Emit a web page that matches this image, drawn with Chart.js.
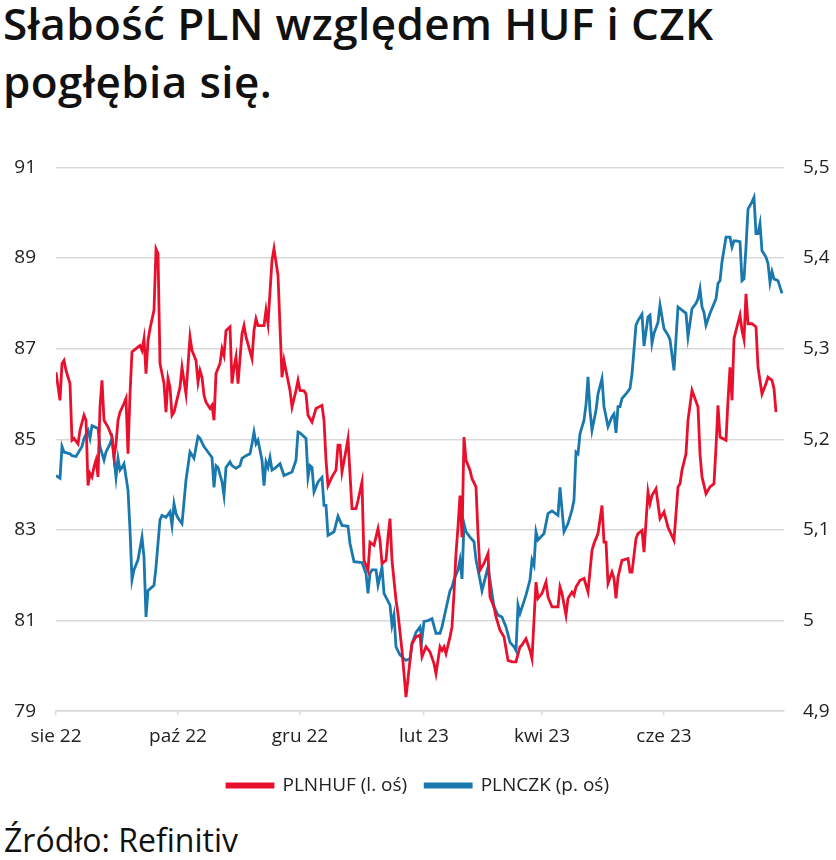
<!DOCTYPE html>
<html lang="pl">
<head>
<meta charset="utf-8">
<title>Słabość PLN względem HUF i CZK</title>
<script src="https://cdn.jsdelivr.net/npm/chart.js@4.4.0/dist/chart.umd.min.js"></script>
<style>
  html, body { margin: 0; padding: 0; background: #fff; }
  body { width: 836px; height: 860px; position: relative; overflow: hidden; font-family: 'Open Sans', sans-serif; }
  h1 { position: absolute; left: 3px; top: -6px; margin: 0; font-size: 44px; font-weight: 600; letter-spacing: 0.4px; line-height: 58px; color: #111; }
  #wrap { position: absolute; left: 0; top: 136px; width: 836px; height: 669px; }
  .source { position: absolute; left: 4px; top: 818px; font-size: 32px; color: #111; }
</style>
</head>
<body>
<h1>Słabość PLN względem HUF i CZK<br>pogłębia się.</h1>
<div id="wrap"><canvas id="chart" width="836" height="669"></canvas></div>
<div class="source">Źródło: Refinitiv</div>
<script>
// days counted from 1 Aug 2022
const monthTickDays = [0, 61, 122, 184, 243, 304];
const monthLabels = ['sie 22', 'paź 22', 'gru 22', 'lut 23', 'kwi 23', 'cze 23'];

// PLNHUF (left axis)
const hufDay = [0,2,3,4,5,7,8,9,11,12,14,15,16,17,18,19,20,21,22,23,24,26,28,29,30,31,32,34,35,36,37,38,40,42,43,44,45,46,47,49,50,51,52,54,55,56,57,58,59,
  62,63,65,67,68,70,71,72,73,74,75,77,78,79,80,82,83,84,85,87,88,89,90,91,93,94,95,98,99,100,101,104,105,106,108,109,110,111,112,113,114,115,117,118,120,121,122,124,125,126,
  128,130,133,134,135,136,138,140,141,142,143,145,146,148,150,151,153,154,156,157,159,161,162,163,165,166,167,168,170,171,173,175,177,178,180,182,183,185,187,189,190,
  192,193,194,195,197,198,199,200,201,202,203,204,205,207,208,210,211,212,214,216,217,219,220,222,224,226,228,230,232,233,235,237,238,240,241,243,245,246,248,251,252,253,255,
  256,258,259,260,262,264,266,268,269,271,273,274,275,276,278,279,280,281,283,286,287,288,290,291,293,294,296,297,298,300,302,304,306,309,311,
  312,313,315,316,318,321,322,323,325,327,329,330,331,332,335,336,337,338,339,340,342,343,344,345,346,348,350,351,353,355,356,358,359,360];
const hufRate = [86.48,85.86,86.67,86.74,86.52,86.23,84.98,85.02,84.9,85.2,85.53,85.42,83.98,84.25,84.17,84.39,84.54,84.17,85.71,86.3,85.42,85.27,85.05,84.61,84.9,85.42,85.6,85.79,85.9,84.68,86.0,86.93,87.0,87.07,86.96,87.22,86.45,87.18,87.44,87.85,89.2,89.1,86.67,86.23,85.6,86.34,86.15,85.53,85.6,
  86.15,86.59,86.0,87.26,86.96,86.74,86.26,86.52,86.37,85.97,85.82,85.68,85.75,85.42,86.45,86.67,87.0,86.85,87.4,87.48,86.23,86.59,86.82,86.23,87.33,87.51,87.26,86.78,87.4,87.66,87.51,87.51,87.85,87.55,88.95,89.21,88.91,88.62,87.48,86.37,86.74,86.52,86.08,85.71,86.08,86.3,86.08,86.07,86.0,85.53,
  85.38,85.68,85.75,85.42,84.54,83.98,84.17,84.32,84.87,84.87,84.28,84.76,85.01,83.47,83.47,83.65,84.06,82.33,82.11,82.73,82.66,83.03,82.77,82.26,82.33,82.84,83.25,82.33,81.45,81.15,80.34,79.31,80.12,80.49,80.64,80.68,80.2,80.42,80.31,80.05,79.83,
  80.42,80.34,80.42,80.27,80.64,80.86,81.6,82.48,83.07,83.76,82.84,85.05,84.54,84.32,84.13,83.95,82.92,82.11,82.26,82.48,81.52,81.3,81.08,80.79,80.64,80.12,80.09,80.09,80.42,80.46,80.6,80.34,80.16,81.85,81.49,81.6,81.85,81.52,81.3,81.3,81.74,81.6,81.12,
  81.49,81.63,81.56,81.74,81.89,81.93,81.63,82.55,82.7,82.92,83.54,82.73,82.73,81.82,82.07,81.93,81.49,81.96,82.33,82.37,82.07,82.07,82.81,82.92,82.99,82.51,83.84,83.58,83.76,83.91,83.25,83.4,83.06,82.77,83.95,
  84.02,84.32,84.68,85.42,86.08,85.71,84.68,84.17,83.8,83.95,84.02,84.83,85.75,85.05,84.98,85.86,86.59,85.86,87.22,87.4,87.74,87.4,87.2,88.21,87.55,87.55,87.48,86.59,86.0,86.23,86.37,86.3,86.12,85.6];

// PLNCZK (right axis)
const czkDay = [0,2,3,4,7,8,10,13,14,16,17,18,19,21,22,24,25,27,28,29,30,31,32,33,34,36,37,38,39,41,43,44,45,46,47,49,50,52,53,55,57,58,59,60,61,
  63,65,67,69,71,72,74,76,78,79,80,81,83,84,85,87,88,90,92,93,95,97,98,99,100,101,103,104,105,106,107,108,110,112,114,116,118,120,121,122,125,126,127,128,129,
  131,133,134,135,136,139,141,143,146,147,149,153,155,156,157,158,160,161,163,164,167,168,169,170,172,175,177,178,180,182,183,184,186,188,190,
  192,193,195,197,198,199,201,202,203,204,205,207,209,210,212,213,216,218,219,221,223,225,227,229,230,231,232,235,237,238,239,240,241,244,246,248,251,252,254,
  256,258,259,260,261,262,264,265,266,267,268,270,271,273,274,276,278,279,280,281,282,283,285,287,288,290,291,293,294,296,297,298,299,301,302,304,306,307,309,311,
  315,316,318,320,321,322,323,324,325,327,330,331,332,333,335,337,338,339,340,342,343,344,345,346,348,349,350,351,352,353,355,356,357,358,359,361,363];
const czkRate = [5.160,5.157,5.192,5.186,5.184,5.182,5.181,5.192,5.201,5.210,5.201,5.215,5.214,5.212,5.192,5.177,5.186,5.195,5.201,5.180,5.158,5.179,5.166,5.169,5.173,5.144,5.100,5.045,5.056,5.067,5.092,5.070,5.004,5.033,5.035,5.039,5.059,5.111,5.116,5.114,5.120,5.105,5.129,5.118,5.113,
  5.107,5.155,5.186,5.179,5.203,5.201,5.192,5.186,5.180,5.147,5.171,5.169,5.153,5.138,5.169,5.175,5.171,5.168,5.171,5.179,5.182,5.184,5.195,5.208,5.195,5.199,5.177,5.149,5.175,5.169,5.180,5.166,5.169,5.173,5.160,5.162,5.164,5.177,5.208,5.207,5.201,5.158,5.171,5.169,5.142,
  5.153,5.158,5.127,5.127,5.094,5.098,5.115,5.105,5.104,5.085,5.065,5.064,5.052,5.030,5.052,5.056,5.056,5.039,5.059,5.030,5.017,4.995,5.006,4.971,4.962,4.956,4.958,4.975,4.987,4.993,4.980,4.999,5.000,5.002,4.986,
  4.986,4.993,5.013,5.033,5.037,5.045,5.056,5.067,5.046,5.107,5.098,5.092,5.087,5.067,5.045,5.033,5.059,5.030,5.015,5.006,5.004,4.993,4.976,4.971,4.967,5.017,5.008,5.028,5.045,5.067,5.061,5.098,5.089,5.096,5.118,5.121,5.116,5.147,5.098,
  5.107,5.122,5.133,5.186,5.184,5.206,5.221,5.238,5.269,5.232,5.210,5.232,5.250,5.267,5.236,5.214,5.225,5.228,5.207,5.236,5.236,5.245,5.250,5.256,5.272,5.326,5.331,5.338,5.303,5.335,5.337,5.306,5.317,5.329,5.348,5.322,5.315,5.310,5.276,5.346,
  5.339,5.313,5.344,5.350,5.355,5.366,5.346,5.340,5.326,5.339,5.355,5.372,5.375,5.396,5.423,5.423,5.412,5.419,5.419,5.418,5.375,5.377,5.412,5.454,5.462,5.467,5.427,5.427,5.438,5.408,5.401,5.394,5.373,5.385,5.377,5.375,5.361];

const RED = '#e8102c';
const BLUE = '#1978ad';
const TEXT = '#222222';
const GRID = '#d9d9d9';
const FONT = { family: "'Open Sans', sans-serif", size: 19 };

function points(days, values) {
  return days.map((d, i) => ({ x: d, y: values[i] }));
}

const chart = new Chart(document.getElementById('chart'), {
  type: 'line',
  data: {
    datasets: [
      {
        label: 'PLNHUF (l. oś)',
        data: points(hufDay, hufRate),
        yAxisID: 'y',
        borderColor: RED,
        backgroundColor: RED,
        borderWidth: 2.8,
        pointRadius: 0,
        tension: 0
      },
      {
        label: 'PLNCZK (p. oś)',
        data: points(czkDay, czkRate),
        yAxisID: 'y1',
        borderColor: BLUE,
        backgroundColor: BLUE,
        borderWidth: 2.8,
        pointRadius: 0,
        tension: 0
      }
    ]
  },
  options: {
    responsive: false,
    animation: false,
    devicePixelRatio: 1,
    layout: { padding: { top: 0, left: 0, right: 0, bottom: 0 } },
    plugins: {
      legend: {
        position: 'bottom',
        labels: { boxWidth: 46, boxHeight: 3, padding: 18, color: TEXT, font: FONT }
      },
      tooltip: { enabled: false }
    },
    scales: {
      x: {
        type: 'linear',
        min: 0,
        max: 364,
        afterBuildTicks: (s) => { s.ticks = monthTickDays.map(v => ({ value: v })); },
        ticks: {
          callback: (v) => monthLabels[monthTickDays.indexOf(v)] ?? '',
          color: TEXT, font: FONT, padding: 10, maxRotation: 0, autoSkip: false
        },
        grid: { drawOnChartArea: false, drawTicks: true, tickLength: 4, color: GRID, lineWidth: 1.5 },
        border: { display: true, color: GRID, width: 1.5 }
      },
      y: {
        position: 'left',
        min: 79,
        max: 91,
        ticks: { stepSize: 2, padding: 20, color: TEXT, font: FONT },
        grid: { color: GRID, lineWidth: 1.5, drawTicks: false },
        border: { display: false },
        afterFit: (s) => { s.width = 56; }
      },
      y1: {
        position: 'right',
        min: 4.9,
        max: 5.5,
        ticks: {
          stepSize: 0.1, padding: 19, color: TEXT, font: FONT,
          callback: (v) => String(Math.round(v * 10) / 10).replace('.', ',')
        },
        grid: { display: false, drawTicks: false },
        border: { display: false },
        afterFit: (s) => { s.width = 52; }
      }
    }
  }
});
</script>
</body>
</html>
